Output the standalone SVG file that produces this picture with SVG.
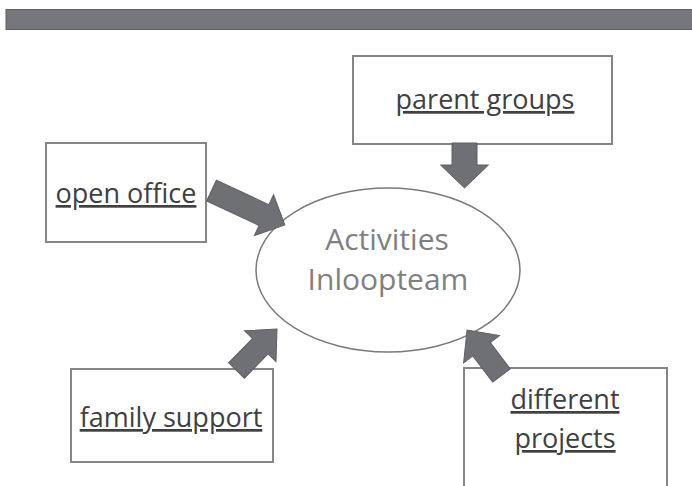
<svg xmlns="http://www.w3.org/2000/svg" width="692" height="486" viewBox="0 0 692 486">
  <style>
    .box { fill: #ffffff; stroke: #858585; stroke-width: 2; }
    .label { font-family: "Open Sans", "Noto Sans", "Liberation Sans", sans-serif; font-size: 27px; fill: #404040; text-anchor: middle; text-decoration: underline; text-decoration-thickness: 2px; }
    .center { font-family: "Open Sans", "Noto Sans", "Liberation Sans", sans-serif; font-size: 30px; fill: #808080; text-anchor: middle; }
    .arrow { fill: #6f7073; stroke: #5e5f62; stroke-width: 1; stroke-linejoin: miter; }
  </style>

  <!-- header bar -->
  <rect x="6" y="9.5" width="690" height="20" fill="#76777a" stroke="#5d5e61" stroke-width="1"/>

  <g id="node-parent-groups">
    <rect class="box" x="353" y="56" width="259" height="88"/>
    <text class="label" x="485" y="109">parent groups</text>
  </g>

  <g id="node-open-office">
    <rect class="box" x="46" y="143" width="160" height="99"/>
    <text class="label" x="126" y="203">open office</text>
  </g>

  <g id="node-family-support">
    <rect class="box" x="71" y="369" width="202" height="93"/>
    <text class="label" x="171" y="427">family support</text>
  </g>

  <g id="node-different-projects">
    <rect class="box" x="464" y="368" width="203" height="130"/>
    <text class="label" x="565" y="409">different</text>
    <text class="label" x="565" y="448">projects</text>
  </g>

  <g id="node-activities">
    <ellipse cx="388" cy="270" rx="132" ry="82" fill="#ffffff" stroke="#7a7a7a" stroke-width="1.5"/>
    <text class="center" x="387" y="250">Activities</text>
    <text class="center" x="388" y="290">Inloopteam</text>
  </g>

  <!-- block arrows: drawn along +x from the tail, then placed -->
  <g id="connectors">
    <path class="arrow" transform="translate(211.5,190.5) rotate(25.1)" d="M0,-11.5 L58,-11.5 L58,-22.5 L81,0 L58,22.5 L58,11.5 L0,11.5 Z"/>
    <path class="arrow" transform="translate(464.5,143) rotate(90)" d="M0,-12.5 L22,-12.5 L22,-24 L45,0 L22,24 L22,12.5 L0,12.5 Z"/>
    <path class="arrow" transform="translate(236.5,370.5) rotate(-45.7)" d="M0,-11 L34,-11 L34,-22 L58,0 L34,22 L34,11 L0,11 Z"/>
    <path class="arrow" transform="translate(501.5,375.5) rotate(-127.2)" d="M0,-11 L33,-11 L33,-22.5 L57,0 L33,22.5 L33,11 L0,11 Z"/>
  </g>
</svg>
